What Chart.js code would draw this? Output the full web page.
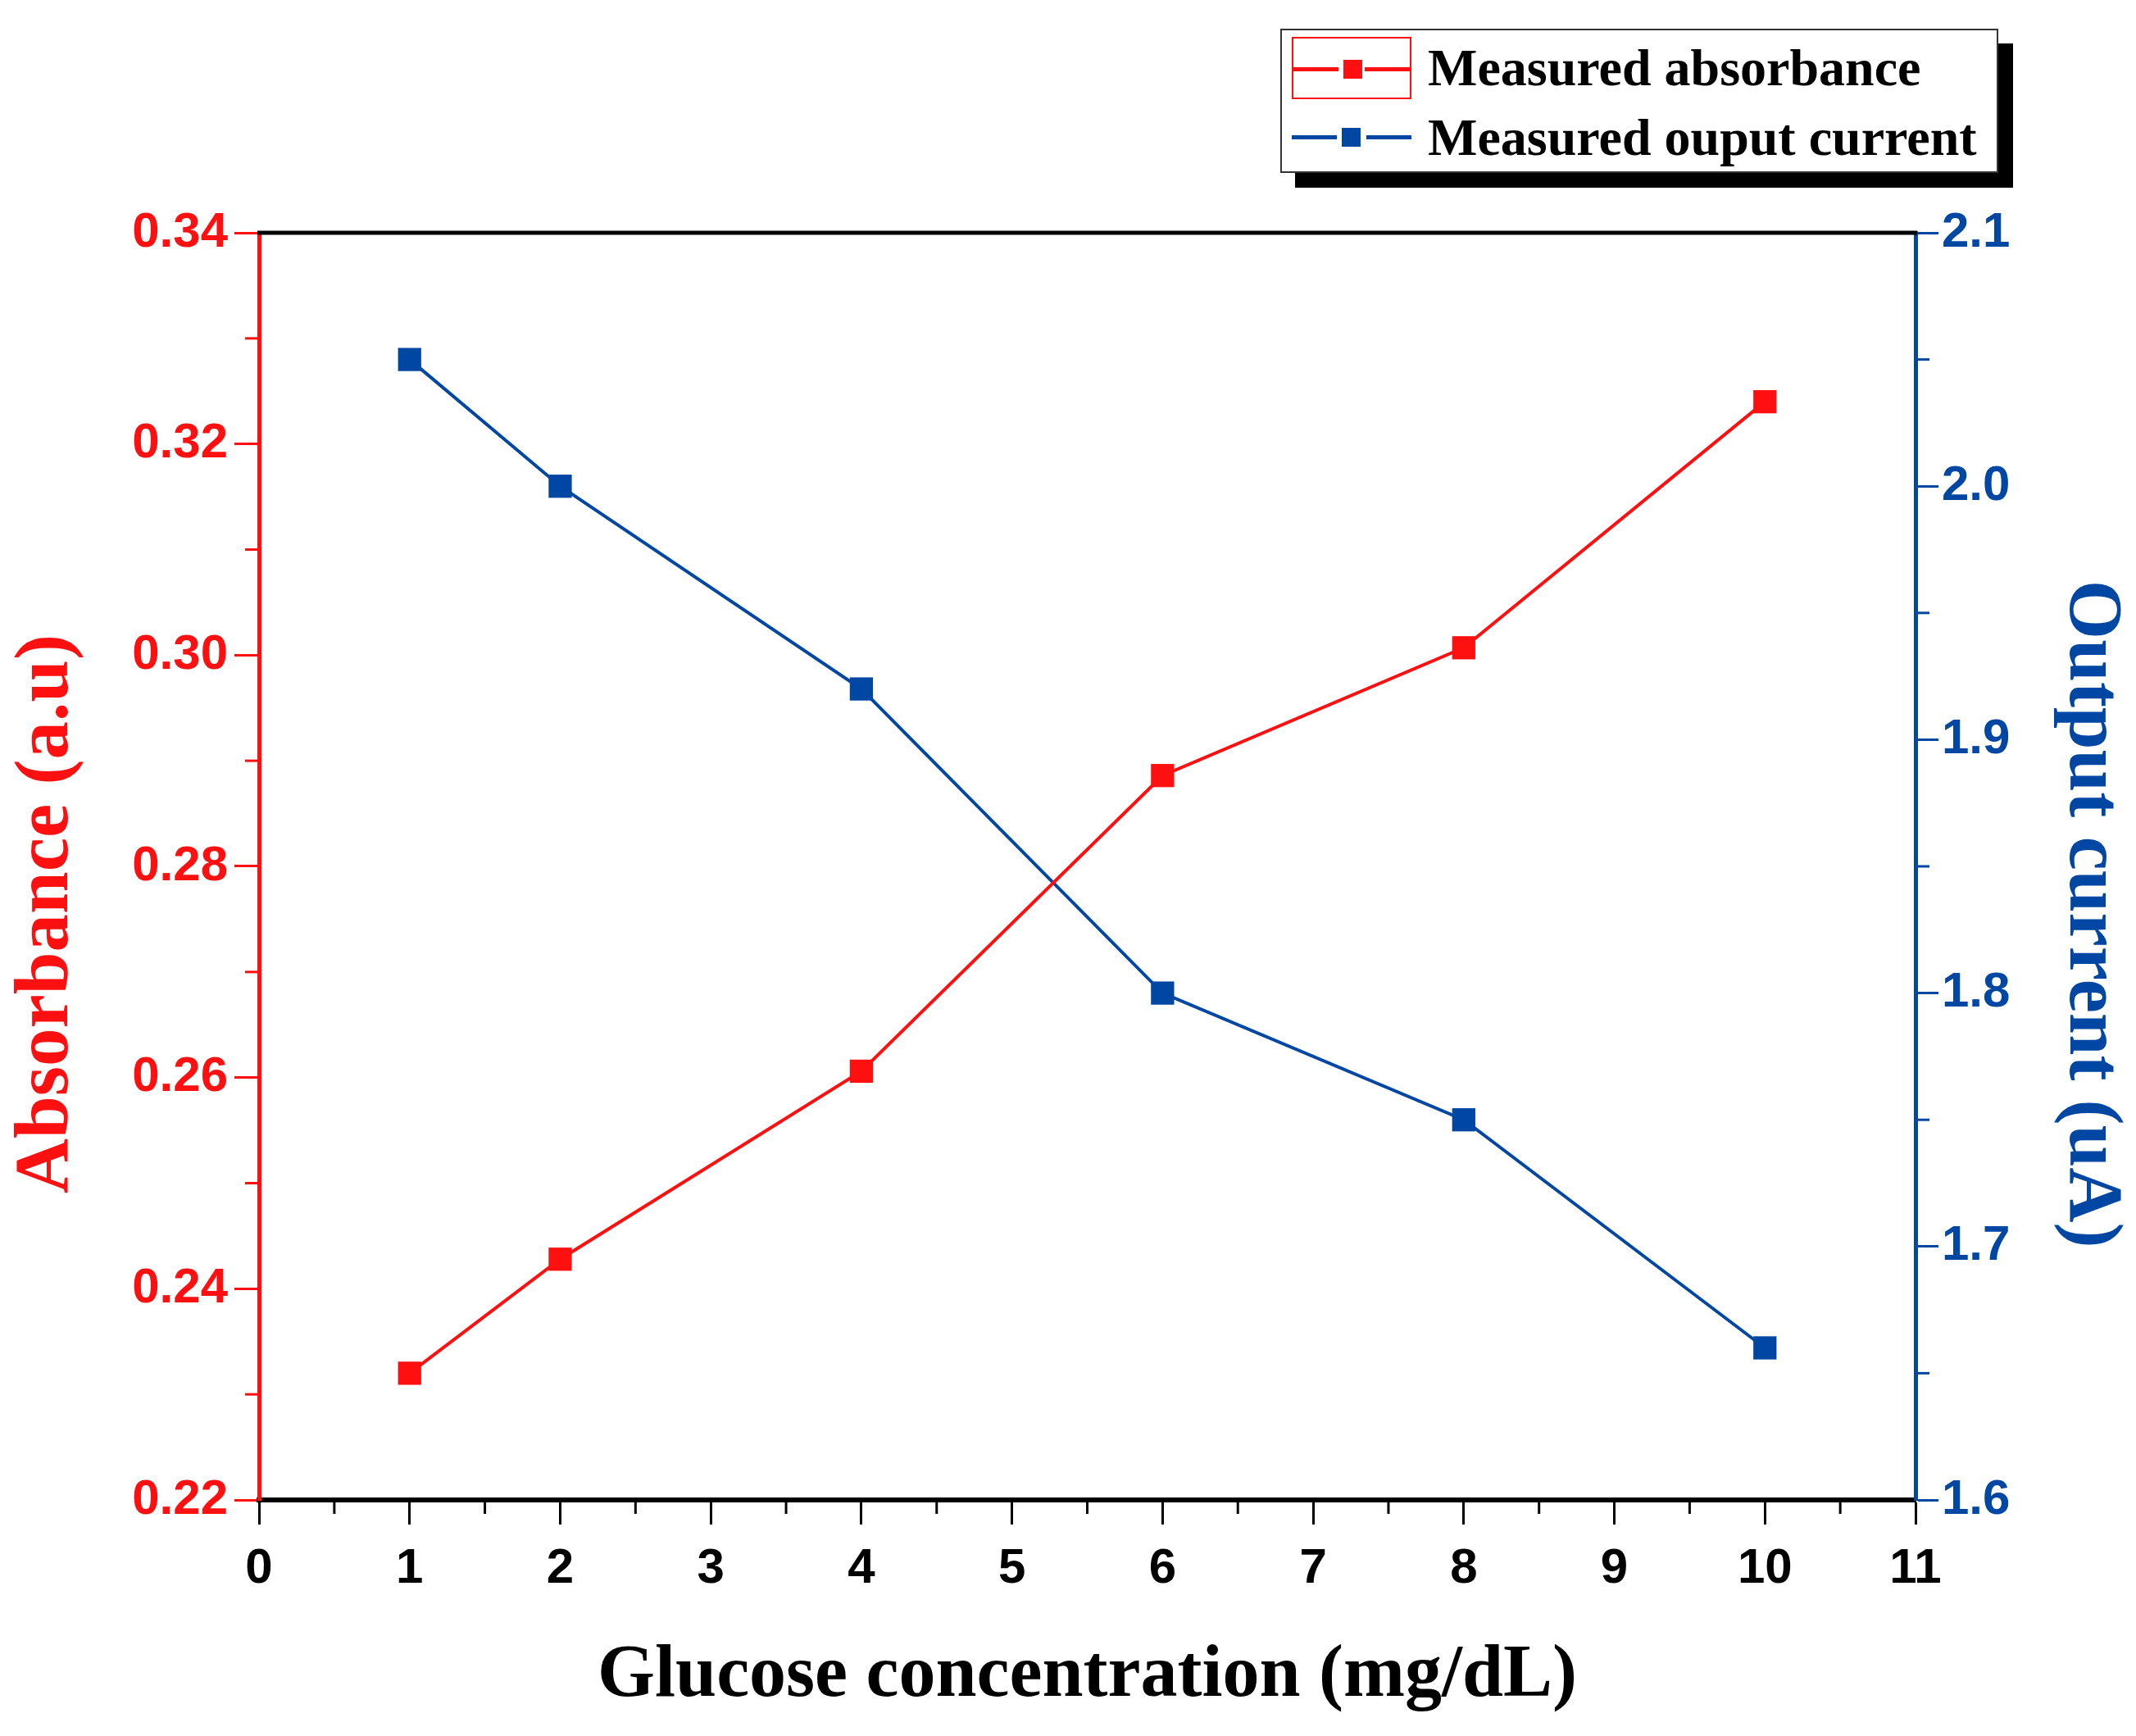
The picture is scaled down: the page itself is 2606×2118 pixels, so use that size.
<!DOCTYPE html>
<html lang="en">
<head>
    <meta charset="UTF-8">
    <title>Absorbance and output current vs glucose concentration</title>
    <style>
body {
    margin: 0;
    padding: 0;
    background-color: #fff;
}

#wrap {
    position: relative;
    width: 2606px;
    height: 2118px;
}

/* Legend box with the offset black shadow */
#legend {
    position: absolute;
    left: 1562px;
    top: 35px;
    width: 872px;
    height: 172px;
    border: 2px solid #333;
    background: #fff;
    box-shadow: 18px 18px 0 #000;
    font-family: "Liberation Serif", "Times New Roman", serif;
    font-weight: bold;
    font-size: 64px;
    color: #000;
}

.item {
    position: absolute;
    left: 12px;
    height: 76px;
    display: flex;
    align-items: center;
}

.sym {
    position: relative;
    width: 146px;
    height: 76px;
    margin-right: 20px;
    box-sizing: border-box;
}

.sym .ln {
    position: absolute;
    top: 35px;
    height: 5px;
    width: 55px;
}

.sym .sq {
    position: absolute;
    left: 61px;
    top: 26px;
    width: 23px;
    height: 23px;
}
    </style>
    <script src="https://cdn.jsdelivr.net/npm/chart.js"></script>
</head>
<body>
<div id="wrap">
    <canvas id="glucoseChart" width="2606" height="2118"></canvas>
    <div id="legend"></div>
</div>

<script>
// values
const concentration = [1, 2, 4, 6, 8, 10];
const absorbance = [0.2320, 0.2428, 0.2606, 0.2886, 0.3007, 0.3240];
const outputCurrent = [2.05, 2.00, 1.92, 1.80, 1.75, 1.66];

const xTicks = [0, 1, 2, 3, 4, 5, 6, 7, 8, 9, 10, 11];
const absTicks = [0.22, 0.24, 0.26, 0.28, 0.30, 0.32, 0.34];
const curTicks = [1.6, 1.7, 1.8, 1.9, 2.0, 2.1];

const RED = '#ff1010';
const BLUE = '#0047a3';

const tickFont = { family: '"Liberation Sans", Arial, sans-serif', weight: 'bold', size: 60 };
const titleFont = { family: '"Liberation Serif", "Times New Roman", serif', weight: 'bold', size: 90, lineHeight: 1 };
const sideTitleFont = { family: '"Liberation Serif", "Times New Roman", serif', weight: 'bold', size: 93, lineHeight: 1 };

function toPoints(xs, ys) {
    return xs.map((x, i) => ({ x: x, y: ys[i] }));
}

// Origin style minor ticks half way between the major ones
const minorTicks = {
    id: 'minorTicks',
    afterDraw(chart) {
        const ctx = chart.ctx;
        const area = chart.chartArea;
        ctx.save();

        const xs = chart.scales.x;
        ctx.strokeStyle = '#000';
        ctx.lineWidth = 3;
        for (let i = 0; i < xTicks.length - 1; i++) {
            const px = xs.getPixelForValue((xTicks[i] + xTicks[i + 1]) / 2);
            ctx.beginPath();
            ctx.moveTo(px, area.bottom);
            ctx.lineTo(px, area.bottom + 17);
            ctx.stroke();
        }

        const ya = chart.scales.yAbs;
        ctx.strokeStyle = RED;
        for (let i = 0; i < absTicks.length - 1; i++) {
            const py = ya.getPixelForValue((absTicks[i] + absTicks[i + 1]) / 2);
            ctx.beginPath();
            ctx.moveTo(area.left, py);
            ctx.lineTo(area.left - 17, py);
            ctx.stroke();
        }

        const yc = chart.scales.yCur;
        ctx.strokeStyle = BLUE;
        for (let i = 0; i < curTicks.length - 1; i++) {
            const py = yc.getPixelForValue((curTicks[i] + curTicks[i + 1]) / 2);
            ctx.beginPath();
            ctx.moveTo(area.right, py);
            ctx.lineTo(area.right + 17, py);
            ctx.stroke();
        }

        // black frame line on top
        ctx.strokeStyle = '#000';
        ctx.lineWidth = 5;
        ctx.beginPath();
        ctx.moveTo(area.left - 2, area.top);
        ctx.lineTo(area.right + 2, area.top);
        ctx.stroke();
        ctx.restore();
    }
};

const chart = new Chart(document.getElementById('glucoseChart'), {
    type: 'line',
    data: {
        datasets: [
            {
                label: 'Measured absorbance',
                data: toPoints(concentration, absorbance),
                yAxisID: 'yAbs',
                borderColor: RED,
                backgroundColor: RED,
                borderWidth: 4,
                pointStyle: 'rect',
                pointRadius: 20,
                pointBorderWidth: 0,
                tension: 0
            },
            {
                label: 'Measured ouput current',
                data: toPoints(concentration, outputCurrent),
                yAxisID: 'yCur',
                borderColor: BLUE,
                backgroundColor: BLUE,
                borderWidth: 4,
                pointStyle: 'rect',
                pointRadius: 20,
                pointBorderWidth: 0,
                tension: 0
            }
        ]
    },
    options: {
        responsive: false,
        devicePixelRatio: 1,
        animation: false,
        layout: { padding: { top: 284, left: 0, right: 0, bottom: 0 } },
        plugins: {
            legend: { display: false },
            tooltip: { enabled: false }
        },
        scales: {
            x: {
                type: 'linear',
                position: 'bottom',
                min: 0,
                max: 11,
                afterFit: s => { s.height = 288; },
                afterBuildTicks: s => { s.ticks = xTicks.map(v => ({ value: v })); },
                ticks: { color: '#000', font: tickFont, padding: 18, maxRotation: 0 },
                grid: { drawOnChartArea: false, tickLength: 30, tickWidth: 3, tickColor: '#000' },
                border: { color: '#000', width: 6 },
                title: {
                    display: true,
                    text: 'Glucose concentration (mg/dL)',
                    color: '#000',
                    font: titleFont,
                    padding: { top: 0, bottom: 27 }
                }
            },
            yAbs: {
                type: 'linear',
                position: 'left',
                min: 0.22,
                max: 0.34,
                afterFit: s => { s.width = 316; },
                afterBuildTicks: s => { s.ticks = absTicks.map(v => ({ value: v })); },
                ticks: { color: RED, font: tickFont, padding: 8, callback: v => v.toFixed(2) },
                grid: { drawOnChartArea: false, tickLength: 30, tickWidth: 3, tickColor: RED },
                border: { color: RED, width: 5 },
                title: {
                    display: true,
                    // trailing spaces push the title a little below the axis centre, as in the figure
                    text: 'Absorbance (a.u)\u00a0\u00a0\u00a0\u00a0\u00a0',
                    color: RED,
                    font: sideTitleFont,
                    padding: { top: 11, bottom: 0 }
                }
            },
            yCur: {
                type: 'linear',
                position: 'right',
                min: 1.6,
                max: 2.1,
                afterFit: s => { s.width = 269; },
                afterBuildTicks: s => { s.ticks = curTicks.map(v => ({ value: v })); },
                ticks: { color: BLUE, font: tickFont, padding: 4, callback: v => v.toFixed(1) },
                grid: { drawOnChartArea: false, tickLength: 28, tickWidth: 3, tickColor: BLUE },
                border: { color: BLUE, width: 5 },
                title: {
                    display: true,
                    text: '\u00a0\u00a0\u00a0\u00a0\u00a0Output current (uA)',
                    color: BLUE,
                    font: sideTitleFont,
                    padding: { top: 9, bottom: 0 }
                }
            }
        }
    },
    plugins: [minorTicks]
});

// HTML legend built from the datasets
function buildLegend(c) {
    const box = document.getElementById('legend');
    c.data.datasets.forEach((ds, i) => {
        const item = document.createElement('div');
        item.className = 'item';
        item.style.top = (i === 0 ? 8 : 93) + 'px';

        const sym = document.createElement('span');
        sym.className = 'sym';
        if (i === 0) sym.style.border = '2px solid ' + ds.borderColor;

        const l1 = document.createElement('span');
        l1.className = 'ln';
        l1.style.left = '0px';
        l1.style.background = ds.borderColor;
        const l2 = document.createElement('span');
        l2.className = 'ln';
        l2.style.right = '0px';
        l2.style.background = ds.borderColor;
        const sq = document.createElement('span');
        sq.className = 'sq';
        sq.style.background = ds.backgroundColor;
        sym.append(l1, sq, l2);

        const txt = document.createElement('span');
        txt.textContent = ds.label;

        item.append(sym, txt);
        box.appendChild(item);
    });
}

buildLegend(chart);
</script>
</body>
</html>
